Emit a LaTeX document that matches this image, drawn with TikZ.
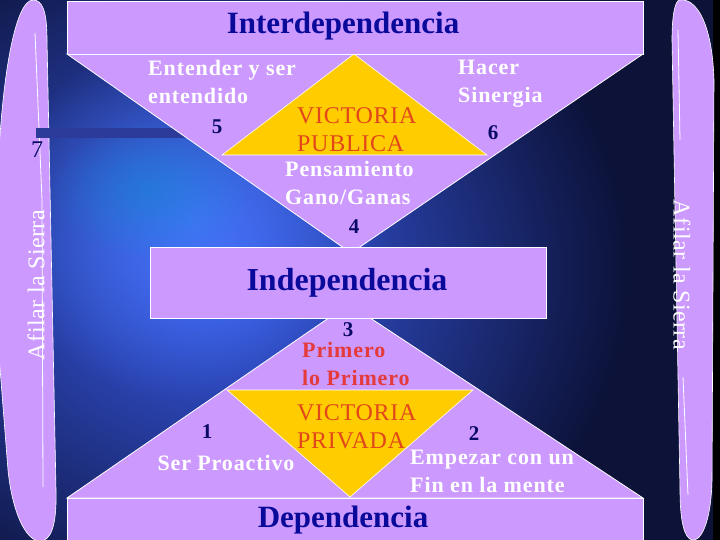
\documentclass[tikz,border=0pt]{standalone}
\usepackage{fontspec}
\setmainfont{Liberation Serif}
\usetikzlibrary{positioning,fadings}
\definecolor{lilac}{HTML}{CC99FF}
\definecolor{gold}{HTML}{FFCC00}
\definecolor{inkblue}{HTML}{0A0A9A}
\definecolor{numnavy}{HTML}{0A0A66}
\definecolor{winred}{HTML}{E2461A}
\definecolor{firstred}{HTML}{E43A3A}
\definecolor{skyblue}{HTML}{3A5CEC}
\definecolor{brightblue}{HTML}{4A7CFF}
\definecolor{nightblue}{HTML}{0C1238}
\definecolor{bandblue}{HTML}{2C3A9A}
\tikzfading[name=glow, inner color=transparent!0, outer color=transparent!100]
\tikzset{
  panel/.style={rectangle, draw=white, line width=0.8pt, fill=lilac, inner sep=0pt},
  wedge/.style={draw=white, line width=0.8pt, fill=lilac},
  win/.style={draw=white, line width=0.6pt, fill=gold},
  saw/.style={draw=white, line width=0.6pt, fill=lilac},
  title/.style={font={\fontsize{31}{36}\selectfont\bfseries}, text=inkblue, inner sep=0pt},
  habit/.style={font={\fontsize{22}{28}\selectfont\bfseries\addfontfeatures{LetterSpace=4}}, text=white, align=left, inner sep=0pt},
  victoryword/.style={font={\fontsize{24}{28}\selectfont\addfontfeatures{LetterSpace=3}}, text=winred, align=left, inner sep=0pt},
  num/.style={font={\fontsize{21}{24}\selectfont\bfseries}, text=numnavy, inner sep=0pt},
  sawtext/.style={font={\fontsize{24}{26}\selectfont\addfontfeatures{LetterSpace=2}}, text=white, inner sep=0pt}
}

\begin{document}
\begin{tikzpicture}[x=1pt, y=-1pt]
  \useasboundingbox (0,0) rectangle (720,540);
  \clip (0,0) rectangle (720,540);

  % Background
  \fill[nightblue] (0,0) rectangle (720,540);
  \fill[skyblue, path fading=glow] (210,270) ellipse [x radius=420pt, y radius=380pt];
  \fill[brightblue, path fading=glow, opacity=0.8] (190,220) ellipse [x radius=200pt, y radius=180pt];
  \fill[cyan!70!blue, path fading=glow, opacity=0.5] (150,190) ellipse [x radius=100pt, y radius=70pt];
  \fill[black] (713,0) rectangle (720,540);

  % Side pills
  \draw[saw] (33,0) .. controls (42,0) and (47,10) .. (47,40) -- (56,490)
       .. controls (57,528) and (50,541) .. (40,541) .. controls (25,541) and (12,510) .. (8,470)
       -- (-3,330) -- (-3,200) .. controls (0,80) and (15,0) .. (33,0);
  \draw[saw] (680,0) .. controls (695,-2) and (712,20) .. (714,80) -- (712,480)
       .. controls (711,525) and (700,542) .. (692,540) .. controls (684,538) and (680,520) .. (680,490)
       -- (672,40) .. controls (672,15) and (675,0) .. (680,0);
  \draw[white, line width=0.8pt] (35,33) -- (42,200) -- (43,487);
  \draw[white, line width=0.8pt] (678,30) -- (680,140);
  \draw[white, line width=0.8pt] (683,377) -- (688,495);
  \fill[bandblue] (36,128) rectangle (195,138);

  % Triangles
  \draw[wedge] (67,54) -- (643,54) -- (351,253) -- cycle;
  \draw[wedge] (67,498) -- (643,498) -- (349,304) -- cycle;
  \draw[win] (222,155) -- (487,155) -- (354,54) -- cycle;
  \draw[win] (227,390) -- (473,390) -- (350,497) -- cycle;

  % Levels
  \node[panel, minimum width=576pt, minimum height=53pt] (interbox) at (355,27.5) {};
  \node[panel, minimum width=396pt, minimum height=71pt] (indepbox) at (348,282.5) {};
  \node[panel, minimum width=576pt, minimum height=47pt] (depbox) at (355,521.5) {};
  \node[title] (intertitle) at (343,26) {Interdependencia};
  \node[title, font={\fontsize{32}{36}\selectfont\bfseries}] (indeptitle) at (347,283) {Independencia};
  \node[title] (deptitle) at (343,520) {Dependencia};

  % Public victory
  \node[habit, anchor=north west] (understand) at (148,60) {Entender y ser\\entendido};
  \node[num] (n5) at (217,127) {5};
  \node[habit, anchor=north west] (synergy) at (458,60) {Hacer\\Sinergia};
  \node[num] (n6) at (493,133) {6};
  \node[victoryword, anchor=north west] (public) at (297,107) {VICTORIA\\PUBLICA};
  \node[habit, anchor=north west] (mindset) at (285,161) {Pensamiento\\Gano/Ganas};
  \node[num] (n4) at (354,227) {4};

  % Private victory
  \node[num] (n3) at (348,330) {3};
  \node[habit, text=firstred, anchor=north west] (first) at (302,342) {Primero\\lo Primero};
  \node[victoryword, anchor=north west] (private) at (297,404) {VICTORIA\\PRIVADA};
  \node[num] (n1) at (207,432) {1};
  \node[habit, anchor=base] (proactive) at (226,470) {Ser Proactivo};
  \node[num] (n2) at (474,434) {2};
  \node[habit, anchor=north west] (endmind) at (410,450) {Empezar con un\\Fin en la mente};

  % Sharpen the saw
  \node[num, font={\fontsize{24}{26}\selectfont}] (n7) at (37,150) {7};
  \node[sawtext, rotate=90] (sawleft) at (36,285) {Afilar la Sierra};
  \node[sawtext, rotate=-90] (sawright) at (682,275) {Afilar la Sierra};
\end{tikzpicture}
\end{document}
